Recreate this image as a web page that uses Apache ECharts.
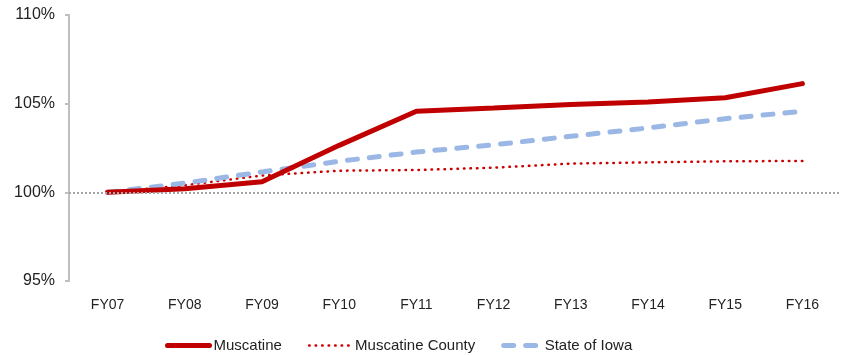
<!DOCTYPE html>
<html>
<head>
<meta charset="utf-8">
<script src="https://cdn.jsdelivr.net/npm/echarts@6/dist/echarts.min.js"></script>
<style>
  html, body { margin: 0; padding: 0; background: #fff; }
  #chart { width: 847px; height: 356px; }
</style>
</head>
<body>
<div id="chart"></div>
<script>
// fiscal years on the x axis
var years = ['FY07', 'FY08', 'FY09', 'FY10', 'FY11', 'FY12', 'FY13', 'FY14', 'FY15', 'FY16']
// index values, FY07 = 100%
var muscatine = [100, 100.2, 100.6, 102.65, 104.57, 104.75, 104.95, 105.1, 105.33, 106.13]
var muscatineCounty = [100, 100.4, 100.95, 101.22, 101.26, 101.39, 101.62, 101.69, 101.75, 101.77]
var stateOfIowa = [100, 100.52, 101.15, 101.75, 102.27, 102.68, 103.16, 103.63, 104.15, 104.57]
var yTicks = [95, 100, 105, 110]

var chart = echarts.init(document.getElementById('chart'))
var font = 'Liberation Sans, Arial, sans-serif'

chart.setOption({
  animation: false,
  grid: { left: 69, right: 6, top: 15, bottom: 75 },
  legend: {
    top: 333,
    left: 160,
    itemWidth: 42,
    itemHeight: 12,
    itemGap: 26,
    itemStyle: { opacity: 0 },
    textStyle: { fontFamily: font, fontSize: 15, color: '#222', padding: [0, 0, 0, -1] },
    data: [
      { name: 'Muscatine', lineStyle: { width: 5, color: '#c00000' } },
      { name: 'Muscatine County', lineStyle: { width: 2.5, color: '#cc0000', type: [0.5, 6], cap: 'round' } },
      {
        name: 'State of Iowa',
        lineStyle: { width: 5, color: '#9bb7e5', type: [10, 12], cap: 'round' },
        textStyle: { padding: [0, 0, 0, -6] }
      }
    ]
  },
  xAxis: {
    type: 'category',
    data: years,
    axisLine: { show: false },
    axisTick: { show: false },
    axisLabel: { margin: 17, fontFamily: font, fontSize: 14, color: '#222' }
  },
  yAxis: {
    type: 'value',
    min: yTicks[0],
    max: yTicks[yTicks.length - 1],
    interval: 5,
    axisLine: { show: true, lineStyle: { color: '#bfbfbf', width: 2 } },
    axisTick: { show: true, length: 4, lineStyle: { color: '#bfbfbf', width: 2 } },
    splitLine: { show: false },
    axisLabel: { margin: 14, fontFamily: font, fontSize: 16, color: '#222', formatter: '{value}%' }
  },
  series: [
    {
      name: 'Muscatine County',
      type: 'line',
      data: muscatineCounty,
      symbol: 'none',
      z: 2,
      lineStyle: { color: '#cc0000', width: 2.5, type: [0.5, 6], cap: 'round' },
      itemStyle: { color: '#cc0000' },
      markLine: {
        silent: true,
        symbol: 'none',
        label: { show: false },
        lineStyle: { color: '#a6a6a6', width: 2, type: [2, 2] },
        data: [{ yAxis: 100 }]
      }
    },
    {
      name: 'State of Iowa',
      type: 'line',
      data: stateOfIowa,
      symbol: 'none',
      z: 3,
      lineStyle: { color: '#9bb7e5', width: 5, type: [10, 12], cap: 'round' },
      itemStyle: { color: '#9bb7e5' }
    },
    {
      name: 'Muscatine',
      type: 'line',
      data: muscatine,
      symbol: 'none',
      z: 4,
      lineStyle: { color: '#c00000', width: 5, cap: 'round' },
      itemStyle: { color: '#c00000' }
    }
  ]
})
</script>
</body>
</html>
